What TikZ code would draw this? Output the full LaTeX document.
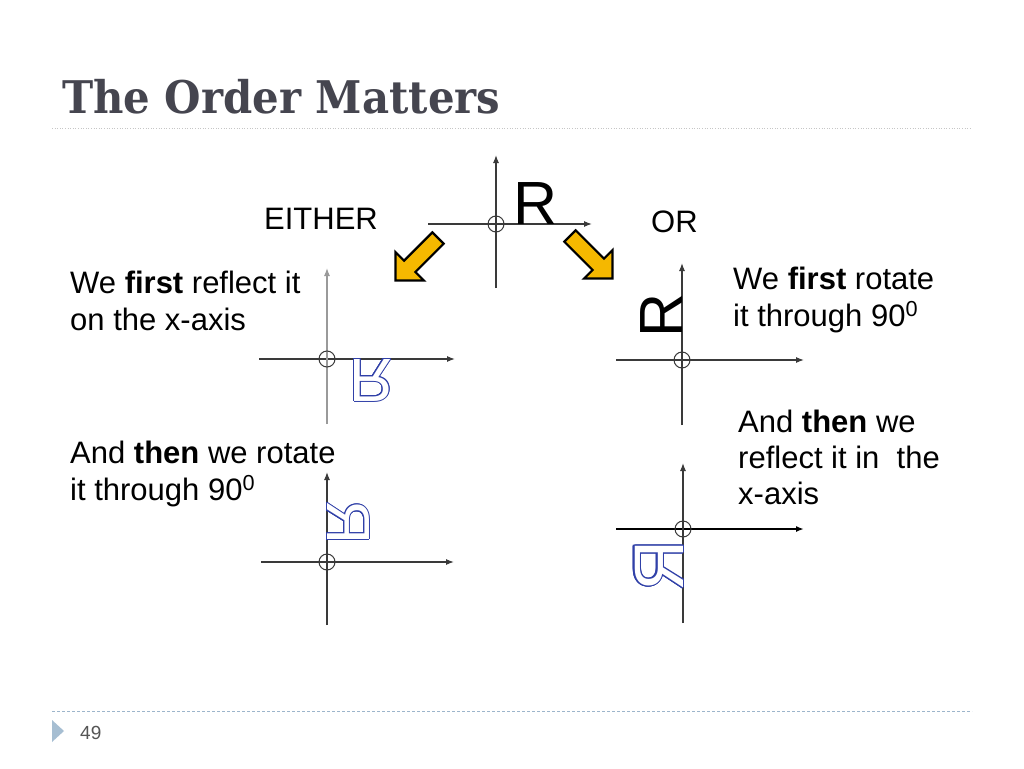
\documentclass[tikz,border=0pt]{standalone}
\usepackage{fontspec}
\setmainfont{Liberation Sans}
\newfontfamily\titlefont{DejaVu Serif}[FakeStretch=0.93]
\usepackage{contour}
\contourlength{1pt}
\usetikzlibrary{arrows.meta}
\definecolor{axisgray}{HTML}{3A3A3A}
\definecolor{lightaxis}{HTML}{9A9A9A}
\definecolor{titlegray}{HTML}{45454F}
\definecolor{rblue}{HTML}{3040A8}
\definecolor{arrowyellow}{HTML}{F5B800}
\definecolor{footblue}{HTML}{A6BED2}
\definecolor{dashblue}{HTML}{9DB5CB}
\definecolor{pagegray}{HTML}{555555}
\tikzset{
  axis/.style={draw=axisgray, line width=1.2pt, -{Latex[length=8pt,width=6pt]}},
  lightax/.style={axis, draw=lightaxis},
  origin/.style={draw=axisgray, line width=1pt},
  bodytext/.style={anchor=base west, inner sep=0pt, font=\fontsize{31}{37}\selectfont},
  letterR/.style={anchor=base west, inner sep=0pt, transform shape, font=\fontsize{61}{61}\selectfont},
  yarrow/.style={fill=arrowyellow, draw=black, line width=2.2pt, line join=miter},
}
\newcommand{\outR}{\contour{rblue}{\textcolor{white}{R}}}
\begin{document}
\begin{tikzpicture}[x=1pt,y=1pt]
\useasboundingbox (0,0) rectangle (1024,-768);
\fill[white] (0,0) rectangle (1024,-768);

% title and rules
\node[anchor=base west, inner sep=0pt, font=\titlefont\bfseries\fontsize{45}{50}\selectfont, text=titlegray] (title) at (62,-113) {The Order Matters};
\draw[gray!45, line width=1pt, dash pattern=on 1pt off 1.6pt] (52,-128) -- (972,-128);
\draw[dashblue, line width=1pt, dash pattern=on 3pt off 2pt] (52,-711) -- (972,-711);
\fill[footblue] (52,-720) -- (64,-731) -- (52,-742) -- cycle;
\node[anchor=base west, inner sep=0pt, font=\fontsize{19}{22}\selectfont, text=pagegray] (page) at (80,-739) {49};

% top axes
\draw[axis] (428,-224) -- (592,-224);
\draw[axis] (496,-288) -- (496,-155);
\draw[origin] (496,-224) circle (8);
\begin{scope}[shift={(496,-224)}]
  \node[letterR] (r0) at (17,0) {R};
\end{scope}

% EITHER / OR
\node[bodytext] (either) at (264,-229) {EITHER};
\node[bodytext] (or) at (651,-232) {OR};

% yellow arrows
\draw[yarrow, shift={(438,-238)}, rotate=-135] (0,-8) -- (40,-8) -- (40,-20) -- (60,0) -- (40,20) -- (40,8) -- (0,8) -- cycle;
\draw[yarrow, shift={(570,-236)}, rotate=-45] (0,-8) -- (40,-8) -- (40,-20) -- (60,0) -- (40,20) -- (40,8) -- (0,8) -- cycle;

% left texts
\node[bodytext] (l1a) at (70,-293) {We \textbf{first} reflect it};
\node[bodytext] (l1b) at (70,-330) {on the x-axis};
\node[bodytext] (l2a) at (70,-463) {And \textbf{then} we rotate};
\node[bodytext] (l2b) at (70,-500) {it through 90\textsuperscript{0}};

% right texts
\node[bodytext] (r1a) at (733,-289) {We \textbf{first} rotate};
\node[bodytext] (r1b) at (733,-326) {it through 90\textsuperscript{0}};
\node[bodytext] (r2a) at (738,-432) {And \textbf{then} we};
\node[bodytext] (r2b) at (738,-468) {reflect it in~ the};
\node[bodytext] (r2c) at (738,-504) {x-axis};

% left middle: reflected in x-axis
\draw[axis] (259,-359) -- (455,-359);
\draw[lightax] (327,-424) -- (327,-268);
\draw[origin] (327,-359) circle (8);
\begin{scope}[shift={(327,-359)}, yscale=-1]
  \node[letterR] (r1) at (22,0) {\outR};
\end{scope}

% left bottom: then rotated
\draw[axis] (261,-562) -- (454,-562);
\draw[axis] (327,-625) -- (327,-472);
\draw[origin] (327,-562) circle (8);
\begin{scope}[shift={(327,-562)}, rotate=90, yscale=-1]
  \node[letterR] (r2) at (17,0) {\outR};
\end{scope}

% right middle: rotated
\draw[axis] (616,-360) -- (804,-360);
\draw[axis] (682,-425) -- (682,-263);
\draw[origin] (682,-360) circle (8);
\begin{scope}[shift={(682,-360)}, rotate=90]
  \node[letterR] (r3) at (22,0) {R};
\end{scope}

% right bottom: then reflected
\draw[axis, draw=black, line width=1.6pt] (616,-529) -- (804,-529);
\draw[axis] (683,-623) -- (683,-463);
\draw[origin] (683,-529) circle (8);
\begin{scope}[shift={(683,-529)}, yscale=-1, rotate=90]
  \begin{scope}[shift={(11,0)}, scale=1.15]
    \node[letterR] (r4) at (0,0) {\outR};
  \end{scope}
\end{scope}
\end{tikzpicture}
\end{document}
